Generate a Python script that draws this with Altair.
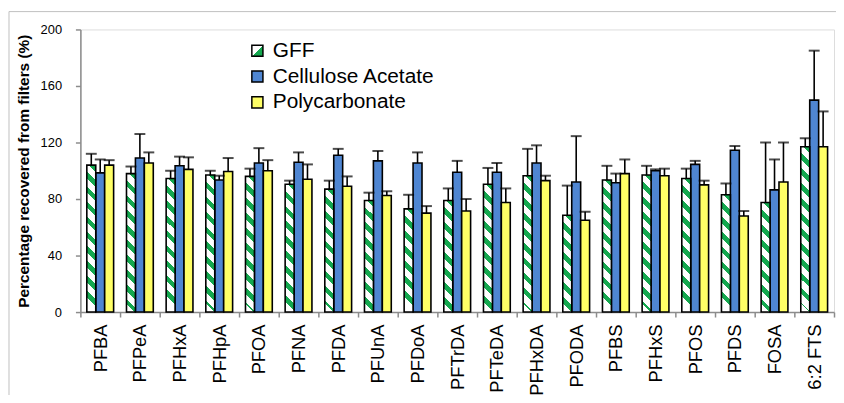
import altair as alt

compounds = ["PFBA", "PFPeA", "PFHxA", "PFHpA", "PFOA", "PFNA", "PFDA", "PFUnA", "PFDoA",
             "PFTrDA", "PFTeDA", "PFHxDA", "PFODA", "PFBS", "PFHxS", "PFOS", "PFDS", "FOSA", "6:2 FTS"]
filters = ["GFF", "Cellulose Acetate", "Polycarbonate"]

gff_mean = [104, 98, 94.5, 97, 96, 90.5, 87, 79, 73, 79, 90.5, 96.5, 68.5, 93.5, 97, 94.5, 83, 77.5, 117]
gff_err = [8, 5, 5.5, 3, 5.5, 2.5, 6, 5.5, 10, 8.5, 11.5, 19, 21, 10, 6.5, 7, 8, 42.5, 6]
ca_mean = [98.5, 109, 103.5, 93.5, 105.5, 106, 111, 107, 105.5, 99, 99, 105.5, 92, 91.5, 100, 104.5, 114.5, 86.5, 150]
ca_err = [9.5, 17, 6.5, 3, 10.5, 7, 4.5, 7, 7.5, 8, 6.5, 12.5, 32.5, 6.5, 1, 2.5, 3, 21.5, 35]
pc_mean = [104, 105.5, 101, 99.5, 100, 94, 89, 82.5, 70, 71.5, 77.5, 93, 65, 98, 96.5, 90, 68, 92, 117]
pc_err = [3.5, 7.5, 8.5, 9.5, 7.5, 10.5, 7, 3, 5, 8.5, 10, 3.5, 6, 10, 5, 3, 3.5, 28, 25]

GREEN = "#14A84F"
BLUE = "#4F86D2"
YELLOW = "#FFFF66"
FONT = "Liberation Sans"

W, H = 760, 285
YMAX = 200
BAR_W = 9
PERIOD = 15.0


def stripe_gradient(value):
    h = max(value * H / YMAX, 1.0)
    p = PERIOD / h
    stops = []
    k = 0
    while k * p < 1:
        a = round(k * p, 5)
        b = round(min(a + 0.45 * p, 1.0), 5)
        c = round(min((k + 1) * p, 1.0), 5)
        stops += [{"offset": a, "color": GREEN}, {"offset": b, "color": GREEN},
                  {"offset": b, "color": "white"}, {"offset": c, "color": "white"}]
        k += 1
    return {"gradient": "linear", "x1": 1, "y1": 0, "x2": round(1 - BAR_W / h, 5), "y2": 1,
            "stops": stops}


records = []
for name, means, errs in [("GFF", gff_mean, gff_err), ("Cellulose Acetate", ca_mean, ca_err),
                          ("Polycarbonate", pc_mean, pc_err)]:
    for c, m, e in zip(compounds, means, errs):
        rec = {"compound": c, "filter": name, "mean": m, "top": m + e}
        if name == "GFF":
            rec["grad"] = stripe_gradient(m)
        records.append(rec)

data = alt.Data(values=records)

legend_grad = ("{gradient: 'linear', x1: 0, y1: 0, x2: 1, y2: 1, stops: ["
               "{offset: 0, color: 'white'}, {offset: 0.5, color: 'white'}, "
               "{offset: 0.5, color: '" + GREEN + "'}, {offset: 1, color: '" + GREEN + "'}]}")

x_enc = alt.X("compound:N", sort=compounds, title=None,
              scale=alt.Scale(paddingInner=0, paddingOuter=0),
              axis=alt.Axis(labelAngle=-90, labelFontSize=18.5, labelFont=FONT, labelColor="black",
                            labelPadding=7, tickBand="extent", tickSize=5, tickColor="#8C8C8C",
                            domainColor="#8C8C8C", domainWidth=1.5, tickWidth=1.5, grid=False))
xo_enc = alt.XOffset("filter:N", sort=filters,
                     scale=alt.Scale(domain=filters, paddingInner=0, paddingOuter=0.72))
y_enc = alt.Y("mean:Q", scale=alt.Scale(domain=[0, YMAX], nice=False),
              axis=alt.Axis(title="Percentage recovered from filters (%)", titleFontSize=15.5,
                            titleFont=FONT, titleFontWeight="bold", titleColor="black",
                            titlePadding=9, values=[0, 40, 80, 120, 160, 200], labelFontSize=13,
                            labelFont=FONT, labelColor="black", labelPadding=14, tickSize=5,
                            tickColor="#8C8C8C", domainColor="#8C8C8C", domainWidth=1.5,
                            tickWidth=1.5, grid=False))

frame = alt.Chart(alt.Data(values=[{"f": 1}])).mark_rect(
    filled=False, stroke="#BFBFBF", strokeWidth=1
).encode(x=alt.value(-72), x2=alt.value(W + 60), y=alt.value(-18), y2=alt.value(H + 120))

bars_other = alt.Chart(data).transform_filter(alt.datum.filter != "GFF").mark_bar(
    stroke="black", strokeWidth=1.6, opacity=1
).encode(
    x=x_enc, xOffset=xo_enc, y=y_enc,
    fill=alt.Fill("filter:N",
                  scale=alt.Scale(domain=filters, range=[alt.ExprRef(expr=legend_grad), BLUE, YELLOW]),
                  legend=alt.Legend(orient="none", legendX=168, legendY=11, title=None,
                                    symbolType="square", symbolSize=125, symbolStrokeColor="black",
                                    symbolStrokeWidth=1.5, symbolOpacity=1, labelFontSize=21,
                                    labelFont=FONT, labelColor="black", labelOffset=5,
                                    rowPadding=4, padding=0, labelLimit=400)),
)

bars_gff = alt.Chart(data).transform_filter(alt.datum.filter == "GFF").mark_bar(
    stroke="black", strokeWidth=1.6, opacity=1
).encode(
    x=x_enc, xOffset=xo_enc, y=y_enc,
    fill=alt.Fill("grad:N", scale=None),
)

err_line = alt.Chart(data).mark_rule(color="black", strokeWidth=1.6).encode(
    x=x_enc, xOffset=xo_enc, y=alt.Y("mean:Q"), y2=alt.Y2("top:Q"),
)

err_cap = alt.Chart(data).mark_tick(color="black", thickness=2, size=11, orient="horizontal").encode(
    x=x_enc, xOffset=xo_enc, y=alt.Y("top:Q"),
)

chart = alt.layer(frame, bars_other, bars_gff, err_line, err_cap).properties(
    width=W, height=H,
    autosize=alt.AutoSizeParams(type="none"),
    padding={"left": 73, "top": 20, "right": 2, "bottom": 82},
).configure_view(stroke=None).configure(font=FONT)

chart.save("out.html", embed_options={"renderer": "svg", "actions": False})
